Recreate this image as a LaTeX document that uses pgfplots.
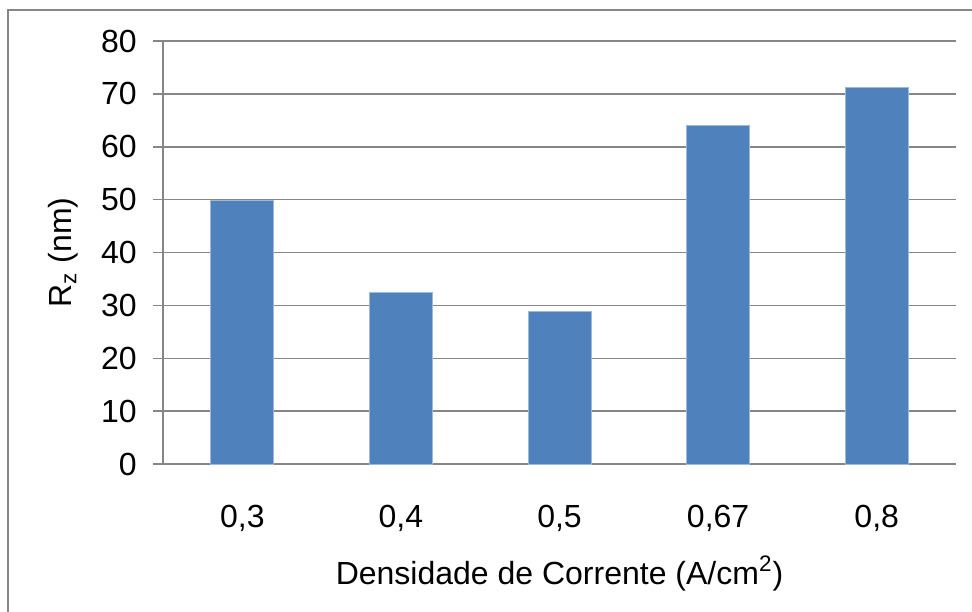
\documentclass[border=0pt]{standalone}
\usepackage{fontspec}
\setmainfont{Liberation Sans}
\usepackage{pgfplots}
\pgfplotsset{compat=1.18}
\definecolor{barblue}{HTML}{4F81BD}
\definecolor{gridgray}{HTML}{868686}
\begin{document}
\begin{tikzpicture}
\begin{axis}[
  at={(81.5pt,73.5pt)}, anchor=south west,
  scale only axis, width=396.5pt, height=211.5pt,
  xmin=-0.5, xmax=4.5, ymin=0, ymax=80,
  ytick={0,10,...,80},
  xtick={0,1,2,3,4},
  xticklabels={0{,}3,0{,}4,0{,}5,0{,}67,0{,}8},
  axis x line*=bottom, axis y line*=left,
  axis line style={gridgray, line width=0.75pt, -},
  ymajorgrids, grid style={gridgray, line width=0.75pt},
  tick align=outside, major tick length=5pt,
  ytick style={gridgray, line width=0.75pt},
  xtick style={draw=none},
  /pgf/number format/assume math mode=true,
  tick label style={font=\fontsize{16}{19}\selectfont},
  yticklabel style={anchor=east, inner sep=0pt, xshift=-8pt},
  xticklabel style={anchor=base, inner sep=0pt, yshift=-26.5pt},
  every axis x label/.style={at={(axis description cs:0.5,0)}, anchor=base, yshift=-60pt, font=\fontsize{16}{19}\selectfont},
  every axis y label/.style={at={(axis description cs:0,0.5)}, rotate=90, anchor=center, yshift=50pt, font=\fontsize{16}{19}\selectfont},
  xlabel={Densidade de Corrente (A/cm\textsuperscript{2})},
  ylabel={R\textsubscript{z} (nm)},
]
\addplot[ybar, bar width=31.5pt, fill=barblue, draw=barblue!55!white, line width=0.4pt]
  coordinates {(0,49.8) (1,32.4) (2,28.9) (3,64.1) (4,71.2)};
\end{axis}
\draw[gridgray, line width=0.75pt] (4pt,-2pt) -- (4pt,300.5pt) -- (490pt,300.5pt);
\pgfresetboundingbox
\path (0,0) rectangle (486pt,305.5pt);
\end{tikzpicture}
\end{document}
